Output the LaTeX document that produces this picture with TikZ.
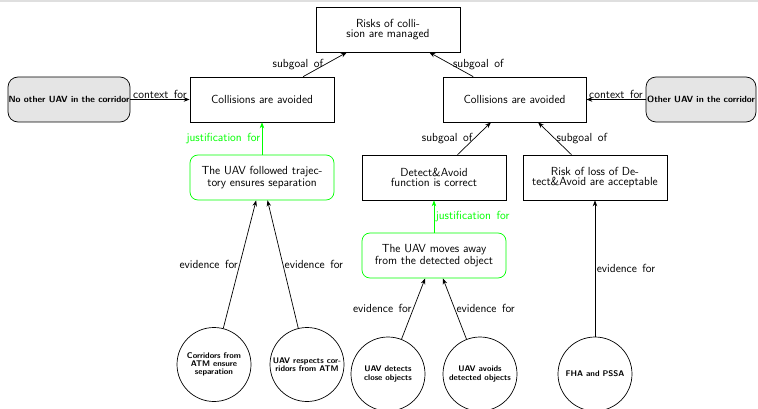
\documentclass[tikz,border=0pt]{standalone}
\usepackage{fontspec}
\usetikzlibrary{arrows.meta}
\definecolor{jgreen}{RGB}{0,255,0}
\tikzset{
 goal/.style={draw, line width=0.7pt, minimum width=144pt, minimum height=45pt, inner sep=0pt, align=center, font=\sffamily\fontsize{11.7}{10}\selectfont},
 just/.style={goal, draw=jgreen, rounded corners=8pt, font=\sffamily\fontsize{11.7}{12}\selectfont},
 ctx/.style={draw, fill=gray!20, rounded corners=10pt, line width=0.7pt, minimum height=45pt, inner sep=0pt, font=\sffamily\bfseries\fontsize{9}{10}\selectfont},
 evid/.style={draw, circle, line width=0.7pt, minimum size=74pt, inner sep=0pt, align=center, font=\sffamily\bfseries\fontsize{8.2}{8.2}\selectfont},
 arr/.style={-{Stealth[length=6pt,width=4.5pt]}, line width=0.7pt},
 jarr/.style={arr, draw=jgreen},
 lbl/.style={font={\sffamily\fontsize{11.7}{14}\selectfont\spaceskip=5.5pt plus 1pt\relax}, inner sep=1.5pt},
 jlbl/.style={lbl, text=jgreen},
}
\begin{document}
\begin{tikzpicture}[x=1pt, y=-1pt]
\useasboundingbox (0,0) rectangle (758,409);
\fill[gray!25] (0,0) rectangle (758,2);
% goals
\node[goal] (top) at (388,29.5) {Risks of colli-\\sion are managed};
\node[goal] (ca1) at (262,99.5) {Collisions are avoided};
\node[goal, minimum width=143pt] (ca2) at (514.5,99.5) {Collisions are avoided};
\node[ctx, minimum width=122pt] (ctx1) at (69,99.5) {No other UAV in the corridor};
\node[ctx, minimum width=110pt] (ctx2) at (701,99.5) {Other UAV in the corridor};
\node[just] (jus1) at (262,177.5) {The UAV followed trajec-\\tory ensures separation};
\node[goal] (da) at (434,177.5) {Detect\&Avoid\\function is correct};
\node[goal] (risk) at (595,177.5) {Risk of loss of De-\\tect\&Avoid are acceptable};
\node[just] (jus2) at (434,255.5) {The UAV moves away\\from the detected object};
% evidence
\node[evid] (c1) at (214,364.5) {Corridors from\\ATM ensure\\separation};
\node[evid] (c2) at (307,364.5) {UAV respects cor-\\ridors from ATM};
\node[evid] (c3) at (388,374) {UAV detects\\close objects};
\node[evid] (c4) at (480,374) {UAV avoids\\detected objects};
\node[evid] (c5) at (595,374) {FHA and PSSA};
% connectors
\draw[arr] (ca1) -- node[lbl, left] {subgoal of} (top);
\draw[arr] (ca2) -- node[lbl, right] {subgoal of} (top);
\draw[arr] (ctx1) -- node[lbl, above, inner sep=0.5pt] {context for} (ca1);
\draw[arr] (ctx2) -- node[lbl, above, inner sep=0.5pt] {context for} (ca2);
\draw[jarr] (jus1) -- node[jlbl, left] {justification for} (ca1);
\draw[arr] (da) -- node[lbl, left] {subgoal of} (ca2);
\draw[arr] (risk) -- node[lbl, right] {subgoal of} (ca2);
\draw[jarr] (jus2) -- node[jlbl, right] {justification for} (da);
\draw[arr] (c1) -- node[lbl, left] {evidence for} (jus1);
\draw[arr] (c2) -- node[lbl, right] {evidence for} (jus1);
\draw[arr] (c3) -- node[lbl, left] {evidence for} (jus2);
\draw[arr] (c4) -- node[lbl, right] {evidence for} (jus2);
\draw[arr] (c5) -- node[lbl, right] {evidence for} (risk);
\end{tikzpicture}
\end{document}
